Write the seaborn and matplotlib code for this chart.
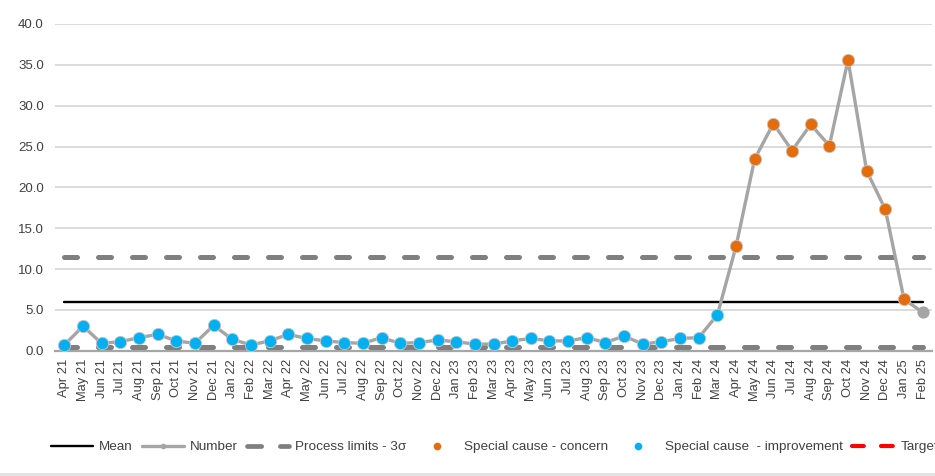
import numpy as np
import pandas as pd
import matplotlib
matplotlib.use("Agg")
import matplotlib.pyplot as plt
from matplotlib.lines import Line2D
from matplotlib.patches import Rectangle
import seaborn as sns

# Monthly values, Apr 21 - Feb 25
months = [
    "Apr 21", "May 21", "Jun 21", "Jul 21", "Aug 21", "Sep 21", "Oct 21", "Nov 21",
    "Dec 21", "Jan 22", "Feb 22", "Mar 22", "Apr 22", "May 22", "Jun 22", "Jul 22",
    "Aug 22", "Sep 22", "Oct 22", "Nov 22", "Dec 22", "Jan 23", "Feb 23", "Mar 23",
    "Apr 23", "May 23", "Jun 23", "Jul 23", "Aug 23", "Sep 23", "Oct 23", "Nov 23",
    "Dec 23", "Jan 24", "Feb 24", "Mar 24", "Apr 24", "May 24", "Jun 24", "Jul 24",
    "Aug 24", "Sep 24", "Oct 24", "Nov 24", "Dec 24", "Jan 25", "Feb 25",
]
number = [
    0.7, 3.0, 0.9, 1.1, 1.6, 2.0, 1.2, 0.9, 3.1, 1.4, 0.7, 1.2,
    2.0, 1.5, 1.2, 1.0, 0.9, 1.6, 0.9, 1.0, 1.3, 1.1, 0.8, 0.8,
    1.2, 1.5, 1.2, 1.2, 1.6, 1.0, 1.8, 0.8, 1.1, 1.5, 1.6, 4.4,
    12.8, 23.5, 27.8, 24.5, 27.7, 25.1, 35.6, 22.0, 17.3, 6.3, 4.7,
]
# Special-cause flags: "improvement", "concern" or "" (common cause)
signal = ["improvement"] * 36 + ["concern"] * 10 + [""]
mean_value = 5.95
upper_limit = 11.5
lower_limit = 0.4
y_ticks = [0, 5, 10, 15, 20, 25, 30, 35, 40]

df = pd.DataFrame({"pos": np.arange(len(months)), "month": months,
                   "number": number, "signal": signal})

GREY = "#A5A5A5"
LIMIT_GREY = "#7F7F7F"
ORANGE = "#E46C0A"
BLUE = "#00B0F0"
RED = "#FF0000"
TEXT = "#404040"

sns.set_theme(style="white")
plt.rcParams["font.family"] = ["Liberation Sans", "DejaVu Sans"]

W, H = 935, 476
fig = plt.figure(figsize=(W / 100, H / 100), dpi=100)
ax = fig.add_axes([55 / W, (H - 350.7) / H, (932 - 55) / W, (350.7 - 24) / H])

# control limits and mean
lim_lw = 3.6
lim_style = (0, (13 / lim_lw * 0.72, 21 / lim_lw * 0.72))
x0, x1 = df["pos"].iloc[0], df["pos"].iloc[-1]
for lim in (upper_limit, lower_limit):
    ax.plot([x0, x1], [lim, lim], color=LIMIT_GREY, lw=lim_lw,
            linestyle=lim_style, dash_capstyle="round", zorder=2)
ax.plot([x0, x1], [mean_value, mean_value], color="black", lw=1.7, zorder=3)

# the measured series
sns.lineplot(data=df, x="pos", y="number", ax=ax, color=GREY, lw=2.4,
             marker="o", markersize=8.8, markeredgewidth=0, zorder=4)

# special-cause points
for kind, col in (("improvement", BLUE), ("concern", ORANGE)):
    sub = df[df["signal"] == kind]
    sns.scatterplot(data=sub, x="pos", y="number", ax=ax, color=col, s=78,
                    linewidth=0.6, edgecolor="#C8C8C8", zorder=5)

ax.set_xlim(-0.5, len(months) - 0.5)
ax.set_ylim(0, 40)
ax.set_yticks(y_ticks)
ax.set_yticklabels([f"{v:.1f}" for v in y_ticks])
ax.set_xticks(df["pos"])
ax.set_xticklabels(months, rotation=90, va="top", ha="center")
ax.set_xlabel("")
ax.set_ylabel("")
ax.tick_params(axis="both", length=0, labelcolor=TEXT)
ax.tick_params(axis="x", pad=6, labelsize=9.3)
ax.tick_params(axis="y", pad=8, labelsize=9.5)
ax.yaxis.grid(True, color="#D9D9D9", lw=1.3)
ax.xaxis.grid(False)
ax.set_axisbelow(True)
for s in ("left", "right", "top"):
    ax.spines[s].set_visible(False)
ax.spines["bottom"].set_color("#A6A6A6")
ax.spines["bottom"].set_linewidth(1.6)
ax.spines["bottom"].set_zorder(1)

handles = [
    Line2D([], [], color="black", lw=1.7),
    Line2D([], [], color=GREY, lw=2.4, marker="o", markersize=4, markeredgewidth=0),
    Line2D([], [], color=LIMIT_GREY, lw=3.4, linestyle=(0, (3.0, 3.96)),
           dash_capstyle="round"),
    Line2D([], [], ls="none", marker="o", color=ORANGE, markersize=5.5,
           markeredgewidth=0),
    Line2D([], [], ls="none", marker="o", color=BLUE, markersize=5.5,
           markeredgewidth=0),
    Line2D([], [], color=RED, lw=3.0, linestyle=(0, (2.83, 4.13)),
           dash_capstyle="round"),
]
labels = ["Mean", "Number", "Process limits - 3\u03c3", "Special cause - concern",
          "Special cause  - improvement", "Target"]
fig.legend(handles, labels, loc="center left", bbox_to_anchor=(51 / W, 29 / H),
           ncol=6, frameon=False, fontsize=9.7, handlelength=3.12,
           handletextpad=0.45, columnspacing=0.68, borderpad=0, borderaxespad=0,
           labelcolor=TEXT, numpoints=1)

fig.add_artist(Rectangle((0, 0), 1, 3.5 / H, transform=fig.transFigure,
                         color="#E3E3E3", lw=0))

fig.savefig("out.png", dpi=100)
